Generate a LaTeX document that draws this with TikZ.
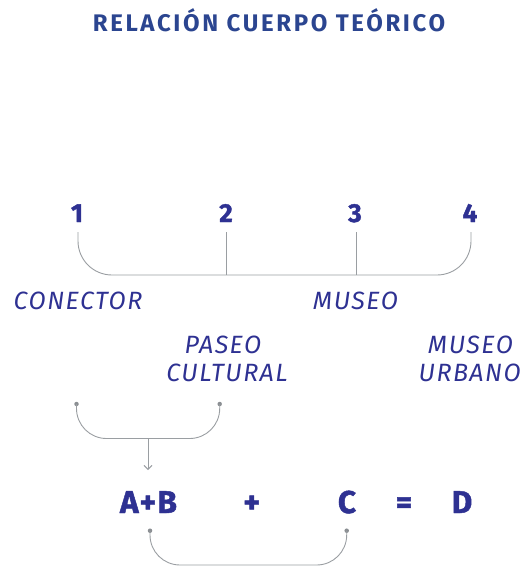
\documentclass[tikz,border=0pt]{standalone}
\usepackage{fontspec}
\setmainfont{Fira Sans}
\newfontfamily\titlefont{Fira Sans}[LetterSpace=11]
\newfontfamily\labfont{Fira Sans}[LetterSpace=6]
\newfontfamily\numfont{Fira Sans}[BoldFeatures={FakeBold=1.5}]
\newfontfamily\bigfont{Fira Sans}[LetterSpace=4,BoldFeatures={FakeBold=1.5}]
\usetikzlibrary{arrows.meta}
\definecolor{navy}{HTML}{2E3192}
\definecolor{titleblue}{HTML}{2B4590}
\definecolor{linegray}{HTML}{9A9EA2}
\definecolor{dotgray}{HTML}{8A8E92}
\tikzset{
  txt/.style={inner sep=0pt, anchor=base, text=navy},
  ttl/.style={txt, text=titleblue, font=\titlefont\bfseries\fontsize{24}{26}\selectfont},
  num/.style={txt, font=\numfont\bfseries\fontsize{26}{28}\selectfont},
  big/.style={txt, font=\bigfont\bfseries\fontsize{31.5}{33}\selectfont},
  lab/.style={txt, font=\labfont\itshape\fontsize{25}{27}\selectfont},
  brace/.style={draw=linegray, line width=0.9pt},
  dot/.style={circle, fill=dotgray, inner sep=0pt, minimum size=4.5pt},
}
\begin{document}
\begin{tikzpicture}[x=1pt,y=-1pt]
\useasboundingbox (0,0) rectangle (522,566);
% title
\node[ttl] (title) at (269,31.5) {RELACIÓN CUERPO TEÓRICO};
% numbers
\node[num] (n1) at (77,222) {1};
\node[num] (n2) at (226,222) {2};
\node[num] (n3) at (355,222) {3};
\node[num] (n4) at (470,222) {4};
% labels
\node[lab] (conector) at (78,309) {CONECTOR};
\node[lab] (museo) at (355.5,309) {MUSEO};
\node[lab] (paseo) at (223,353) {PASEO};
\node[lab] (cultural) at (227,381.5) {CULTURAL};
\node[lab] (museo2) at (470.5,353) {MUSEO};
\node[lab] (urbano) at (469.7,381.5) {URBANO};
% formula
\node[big] (ab) at (148.5,513) {A+B};
\node[big] (plus) at (251.7,513) {+};
\node[big] (c) at (347,513) {C};
\node[big] (eq) at (404,513) {=};
\node[big] (d) at (462,513) {D};
% bracket 1
\coordinate (b1a) at (78,232);
\coordinate (b1d) at (471,232);
\coordinate (b1b) at (226,232);
\coordinate (b1c) at (356,232);
\draw[brace, rounded corners=34pt] (b1a) -- (b1a |- 0,275) -- (b1d |- 0,275) -- (b1d);
\draw[brace] (b1b) -- (b1b |- 0,275);
\draw[brace] (b1c) -- (b1c |- 0,275);
% bracket 2
\node[dot] (d2a) at (76.5,404) {};
\node[dot] (d2b) at (219.7,404) {};
\draw[brace, rounded corners=30pt] (d2a.center) -- (d2a |- 0,438.5) -- (d2b |- 0,438.5) -- (d2b.center);
\coordinate (arrtop) at (148,438.5);
\coordinate (arrbot) at (148,470);
\draw[brace, -{Straight Barb[length=4pt,width=8pt]}] (arrtop) -- (arrbot);
% bracket 3
\node[dot] (d3a) at (150,530.7) {};
\node[dot] (d3b) at (346.7,530.7) {};
\draw[brace, rounded corners=30pt] (d3a.center) -- (d3a |- 0,565) -- (d3b |- 0,565) -- (d3b.center);
\end{tikzpicture}
\end{document}
